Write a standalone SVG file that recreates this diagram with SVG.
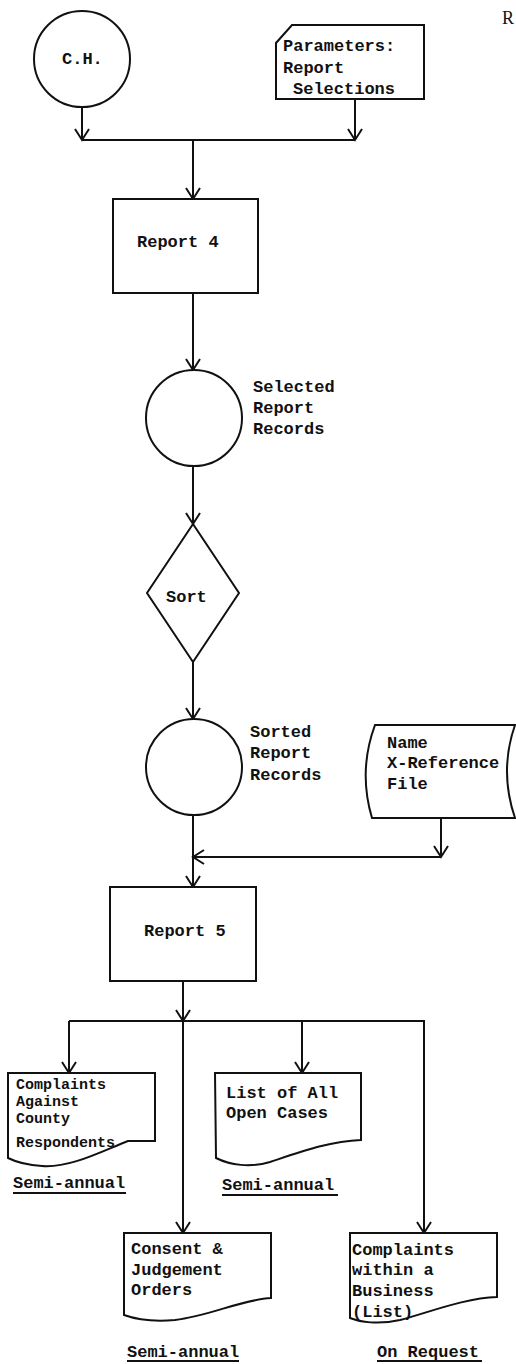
<svg xmlns="http://www.w3.org/2000/svg" width="516" height="1364" viewBox="0 0 516 1364">
<style>
.s{fill:none;stroke:#111;stroke-width:2}
.n{fill:#fff;stroke:#111;stroke-width:2}
.t{font-family:"Liberation Mono",monospace;font-size:17px;font-weight:bold;fill:#111}
.sm{font-size:15px}
.c{fill:none;stroke:#111;stroke-width:2}
.a{marker-end:url(#ar)}
</style>
<defs>
<marker id="ar" markerUnits="userSpaceOnUse" markerWidth="14" markerHeight="16" refX="12" refY="8" orient="auto">
<path d="M1,1 L12,8 L1,15" fill="none" stroke="#111" stroke-width="2"/>
</marker>
</defs>
<rect width="516" height="1364" fill="#fff"/>
<text x="502" y="24" font-family="Liberation Serif,serif" font-size="18" fill="#111">R</text>

<g id="connectors">
<path class="c a" d="M82,107 V140"/>
<path class="c a" d="M355,99 V140"/>
<path class="c" d="M82,140 H355"/>
<path class="c a" d="M193,140 V199"/>
<path class="c a" d="M193,293 V370"/>
<path class="c a" d="M193,466 V524"/>
<path class="c a" d="M193,662 V719"/>
<path class="c a" d="M193,815 V887"/>
<path class="c" d="M441,818 V857"/>
<path class="c a" d="M441,845 V857"/>
<path class="c a" d="M441,857 H193"/>
<path class="c a" d="M183,981 V1021"/>
<path class="c" d="M69,1021 H425"/>
<path class="c a" d="M69,1021 V1073"/>
<path class="c a" d="M183,1021 V1233"/>
<path class="c a" d="M302,1021 V1073"/>
<path class="c a" d="M424,1021 V1233"/>
</g>

<g id="ch">
<circle class="n" cx="82" cy="59" r="48"/>
<text class="t" x="62" y="64">C.H.</text>
</g>

<g id="params">
<path class="n" d="M292,25 H424 V99 H276 V43 Z"/>
<text class="t" x="283" y="51">Parameters:</text>
<text class="t" x="283" y="73">Report</text>
<text class="t" x="293" y="94">Selections</text>
</g>

<g id="report4">
<rect class="n" x="113" y="199" width="145" height="94"/>
<text class="t" x="137" y="247">Report 4</text>
</g>

<g id="selected">
<circle class="n" cx="194" cy="418" r="48"/>
<text class="t" x="253" y="392">Selected</text>
<text class="t" x="253" y="413">Report</text>
<text class="t" x="253" y="434">Records</text>
</g>

<g id="sort">
<path class="n" d="M193,524 L239,593 L193,662 L147,593 Z"/>
<text class="t" x="166" y="602">Sort</text>
</g>

<g id="sorted">
<circle class="n" cx="194" cy="767" r="48"/>
<text class="t" x="250" y="737">Sorted</text>
<text class="t" x="250" y="758">Report</text>
<text class="t" x="250" y="780">Records</text>
</g>

<g id="xref">
<path class="n" d="M375,725 L515,725 Q499,771 515,818 L372,818 Q358,771 375,725 Z"/>
<text class="t" x="387" y="748">Name</text>
<text class="t" x="387" y="768">X-Reference</text>
<text class="t" x="387" y="789">File</text>
</g>

<g id="report5">
<rect class="n" x="110" y="887" width="146" height="94"/>
<text class="t" x="144" y="936">Report 5</text>
</g>

<g id="doc-county">
<path class="n" d="M8,1073 H155 V1141 H128 C100,1152 70,1168 42,1166 C26,1165 14,1161 8,1158 Z"/>
<text class="t sm" x="16" y="1089">Complaints</text>
<text class="t sm" x="16" y="1106">Against</text>
<text class="t sm" x="16" y="1123">County</text>
<text class="t sm" x="16" y="1147">Respondents</text>
<text class="t" x="13" y="1188">Semi-annual</text>
<path class="c" d="M13,1193 H126"/>
</g>

<g id="doc-open">
<path class="n" d="M215,1073 H361 V1140 C330,1141 300,1152 270,1162 C250,1168 230,1165 216,1158 Z"/>
<text class="t" x="226" y="1098">List of All</text>
<text class="t" x="226" y="1118">Open Cases</text>
<text class="t" x="222" y="1190">Semi-annual</text>
<path class="c" d="M222,1195 H338"/>
</g>

<g id="doc-consent">
<path class="n" d="M124,1233 H271 V1298 C240,1300 210,1316 175,1320 C152,1322 135,1319 124,1315 Z"/>
<text class="t" x="131" y="1254">Consent &amp;</text>
<text class="t" x="131" y="1275">Judgement</text>
<text class="t" x="131" y="1295">Orders</text>
<text class="t" x="127" y="1357">Semi-annual</text>
<path class="c" d="M127,1361 H239"/>
</g>

<g id="doc-business">
<path class="n" d="M350,1233 H497 V1297 C465,1298 430,1312 400,1320 C378,1325 360,1322 350,1318 Z"/>
<text class="t" x="352" y="1255">Complaints</text>
<text class="t" x="352" y="1275">within a</text>
<text class="t" x="352" y="1296">Business</text>
<text class="t" x="352" y="1317">(List)</text>
<text class="t" x="377" y="1357">On Request</text>
<path class="c" d="M377,1361 H482"/>
</g>
</svg>
